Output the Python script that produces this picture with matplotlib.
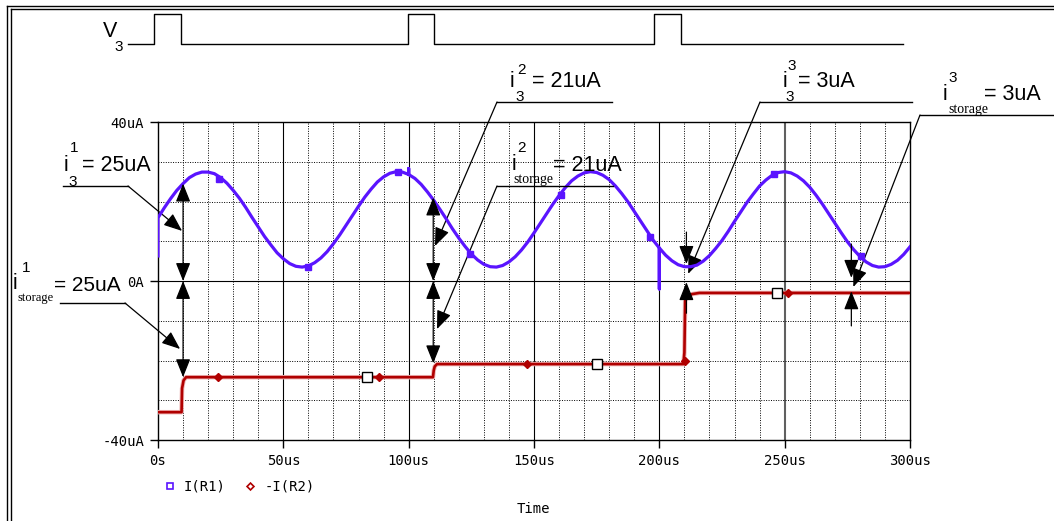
import numpy as np
import matplotlib
matplotlib.use("Agg")
import matplotlib.pyplot as plt
from matplotlib.lines import Line2D

W, H = 1054, 521

# I(R1) in uA, read every 2.5 us from 0 to 300 us
t_r1 = np.arange(0, 300.1, 2.5)
i_r1 = [
    15.9, 18.4, 20.7, 22.8, 24.5, 26.0, 26.9, 27.4, 27.4, 27.0,
    26.0, 24.6, 22.8, 20.8, 18.5, 16.0, 13.6, 11.2, 9.1, 7.1,
    5.6, 4.4, 3.7, 3.5, 3.8, 4.6, 5.8, 7.4, 9.4, 11.6,
    14.0, 16.4, 18.8, 21.1, 23.1, 24.9, 26.2, 27.1, 27.5, 27.4,
    26.8, 25.8, 24.3, 22.4, 20.3, 18.0, 15.6, 13.1, 10.8, 8.7,
    6.8, 5.3, 4.2, 3.6, 3.5, 3.9, 4.8, 6.1, 7.8, 9.8,
    12.1, 14.5, 16.9, 19.3, 21.5, 23.5, 25.2, 26.4, 27.2, 27.5,
    27.3, 26.6, 25.5, 23.9, 22.0, 19.9, 17.5, 15.1, 12.7, 10.3,
    8.3, 6.5, 5.1, 4.1, 3.6, 3.6, 4.0, 5.0, 6.4, 8.2,
    10.2, 12.5, 15.0, 17.4, 19.8, 21.9, 23.9, 25.4, 26.6, 27.3,
    27.5, 27.2, 26.4, 25.2, 23.6, 21.6, 19.4, 17.0, 14.6, 12.2,
    9.9, 7.9, 6.2, 4.8, 3.9, 3.5, 3.6, 4.2, 5.2, 6.7,
    8.6,
]
r1_start = 6.3
spike_t = [100.0, 200.0]
spike_v = [28.3, -2.0]

# -I(R2) in uA
t_r2 = [0, 9.4, 9.6, 10.2, 11.2, 109.7, 110.0, 110.4, 111.3,
        209.6, 210.0, 210.3, 211.0, 213.0, 216.0, 300]
i_r2 = [-33.0, -33.0, -27.0, -25.0, -24.2, -24.2, -22.5, -21.5, -20.9,
        -20.9, -18.0, -5.0, -4.0, -3.3, -3.0, -3.0]

# symbol markers
mk_r1_t = [24.3, 59.9, 95.8, 124.5, 160.8, 196.3, 245.8, 280.5]
mk_r1_v = [25.7, 3.5, 27.5, 6.8, 21.7, 11.1, 27.0, 6.3]
mk_r2_t = [24.0, 88.2, 147.3, 210.3, 251.4]
mk_r2_v = [-24.2, -24.2, -20.9, -20.1, -3.0]
cursor_t = [83.4, 175.1, 246.9]
cursor_v = [-24.2, -20.9, -3.0]

# V3 pulse train (drawn on the same time axis, above the plot)
v3_start, v3_end = -12.0, 297.4
v3_pulses = [(-1.6, 9.2), (99.8, 110.2), (198.0, 208.8)]
v3_low, v3_high = 59.6, 67.2

x_ticks = [0, 50, 100, 150, 200, 250, 300]
x_labels = ["0s", "50us", "100us", "150us", "200us", "250us", "300us"]
y_ticks = [-40, 0, 40]
y_labels = ["-40uA", "0A", "40uA"]
legend_labels = ["I(R1)", "-I(R2)"]

BLUE = "#5a14ff"
RED = "#b00000"
SANS = "Liberation Sans"
SERIF = "Liberation Serif"
MONO = "DejaVu Sans Mono"

fig = plt.figure(figsize=(W / 100, H / 100), dpi=100)
ax = fig.add_axes([158 / W, 1 - 440 / H, (910 - 158) / W, (440 - 122) / H])
ax.set_xlim(0, 300)
ax.set_ylim(-40, 40)

# grid
for t in range(10, 300, 10):
    if t % 50:
        ax.axvline(t, color="k", lw=0.7, ls=(0, (1, 1.5)), zorder=1)
    elif t == 250:
        ax.axvline(t, color="#606060", lw=1.5, zorder=1)
    else:
        ax.axvline(t, color="k", lw=0.8, zorder=1)
for v in [-30, -20, -10, 10, 20, 30]:
    ax.axhline(v, color="k", lw=0.7, ls=(0, (1, 1.5)), zorder=1)
ax.axhline(0, color="k", lw=0.8, zorder=1)

ax.set_xticks(x_ticks)
ax.set_xticklabels(x_labels)
ax.set_yticks(y_ticks)
ax.set_yticklabels(y_labels)
ax.tick_params(direction="out", length=6, width=1, pad=4, labelsize=10)
for lab in ax.get_xticklabels() + ax.get_yticklabels():
    lab.set_fontfamily(MONO)
for s in ax.spines.values():
    s.set_linewidth(1.0)

# I(R1) with its glitches
bt, bv = [0.0], [r1_start]
for t, v in zip(t_r1, i_r1):
    bt.append(t)
    bv.append(v)
    for st, sv in zip(spike_t, spike_v):
        if abs(t - st) < 1e-6:
            bt += [t, t]
            bv += [sv, v]
ax.plot(bt, bv, color=BLUE, lw=2.3, zorder=4, solid_joinstyle="round")
ax.plot(mk_r1_t, mk_r1_v, ls="none", marker="s", ms=4.5, color=BLUE, zorder=5)

# -I(R2)
ax.plot(t_r2, i_r2, color="#eeb4b4", lw=3.2, zorder=3)
ax.plot(t_r2, i_r2, color=RED, lw=1.9, zorder=4)
ax.plot(mk_r2_t, mk_r2_v, ls="none", marker="D", ms=4.5, color=RED, zorder=5)
ax.plot(cursor_t, cursor_v, ls="none", marker="s", ms=7, mfc="white",
        mec="k", mew=1, zorder=6)

# V3 pulse train
pt, pv = [v3_start], [v3_low]
for a, b in v3_pulses:
    pt += [a, a, b, b]
    pv += [v3_low, v3_high, v3_high, v3_low]
pt.append(v3_end)
pv.append(v3_low)
ax.plot(pt, pv, color="k", lw=1.0, clip_on=False)


def ftext(x, y, s, size=15.5, family=SANS, ha="left"):
    fig.text(x / W, 1 - y / H, s, fontsize=size, family=family, ha=ha,
             va="baseline")


def fline(x1, y1, x2, y2, lw=1.0):
    fig.add_artist(Line2D([x1 / W, x2 / W], [1 - y1 / H, 1 - y2 / H],
                          transform=fig.transFigure, color="k", lw=lw))


head = "-|>,head_length=0.75,head_width=0.3"
dhead = "<|-|>,head_length=0.75,head_width=0.3"


def pointer(x, y, t, v):
    ax.annotate("", xy=(t, v), xycoords="data", xytext=(x, H - y),
                textcoords="figure pixels", annotation_clip=False,
                arrowprops=dict(arrowstyle=head, color="k", lw=0.9,
                                mutation_scale=15, shrinkA=0, shrinkB=0))


def dim(t, v1, v2, style=dhead):
    ax.annotate("", xy=(t, v2), xytext=(t, v1), annotation_clip=False,
                arrowprops=dict(arrowstyle=style, color="k", lw=0.9,
                                mutation_scale=15, shrinkA=0, shrinkB=0),
                zorder=7)


# V3 label
ftext(110, 37, "V", ha="center")
ftext(119, 51, "3", size=11, ha="center")

# i_3^1
ftext(66, 171, "i", ha="center")
ftext(74, 152, "1", size=11, ha="center")
ftext(73, 186, "3", size=11, ha="center")
ftext(82, 171, "= 25uA")
fline(63, 186, 128, 186)
pointer(128, 186, 9.6, 12.6)

# i_storage^1
ftext(15, 289, "i", ha="center")
ftext(26, 272, "1", size=11, ha="center")
ftext(18, 301, "storage", size=9, family=SERIF)
ftext(54, 291, "= 25uA", size=15)
fline(60, 303, 125, 303)
pointer(125, 303, 8.8, -17.1)

# i_3^2
ftext(512, 87, "i", ha="center")
ftext(521, 74, "2", size=11, ha="center")
ftext(520, 101, "3", size=11, ha="center")
ftext(532, 87, "= 21uA")
fline(497, 102, 612, 102)
pointer(497, 102, 110.5, 8.8)

# i_storage^2
ftext(514, 170, "i", ha="center")
ftext(522, 152, "2", size=11, ha="center")
ftext(513, 183, "storage", size=10, family=SERIF)
ftext(553, 171, "= 21uA")
fline(497, 186, 613, 186)
pointer(497, 186, 111.3, -12.1)

# i_3^3
ftext(785, 87, "i", ha="center")
ftext(792, 70, "3", size=11, ha="center")
ftext(790, 101, "3", size=11, ha="center")
ftext(798, 87, "= 3uA")
fline(760, 102, 912, 102)
pointer(760, 102, 211.5, 1.8)

# i_storage^3
ftext(945, 100, "i", ha="center")
ftext(953, 82, "3", size=11, ha="center")
ftext(948, 113, "storage", size=10, family=SERIF)
ftext(984, 100, "= 3uA")
fline(920, 115, W, 115)
pointer(920, 115, 277.4, -1.5)

# dimension arrows
dim(10.0, 0, 24.5)
dim(10.0, 0, -24.2)
dim(109.8, 0, 21.0)
dim(109.8, 0, -20.7)
dim(210.8, 12.3, 4.3, head)
dim(210.8, -8.1, -0.3, head)
dim(276.6, 9.3, 0.8, head)
dim(276.6, -11.3, -2.6, head)

# legend
handles = [
    Line2D([], [], ls="none", marker="s", ms=4, mfc="white", mec=BLUE, mew=1.2),
    Line2D([], [], ls="none", marker="D", ms=3.5, mfc="white", mec=RED, mew=1.2),
]
fig.legend(handles, legend_labels, loc="center left",
           bbox_to_anchor=(157 / W, 1 - 487 / H), ncol=2, frameon=False,
           borderpad=0, handlelength=0.8, handletextpad=0.6,
           columnspacing=1.4, prop={"family": MONO, "size": 10})
fig.text(533 / W, 1 - 509 / H, "Time", family=MONO, fontsize=10,
         ha="center", va="center")

# page frame
fline(7, 5.5, W, 5.5)
fline(10.5, 9, W, 9)
fline(7, 5.5, 7, H)
fline(10.5, 9, 10.5, H)

fig.savefig("out.png", dpi=100)
